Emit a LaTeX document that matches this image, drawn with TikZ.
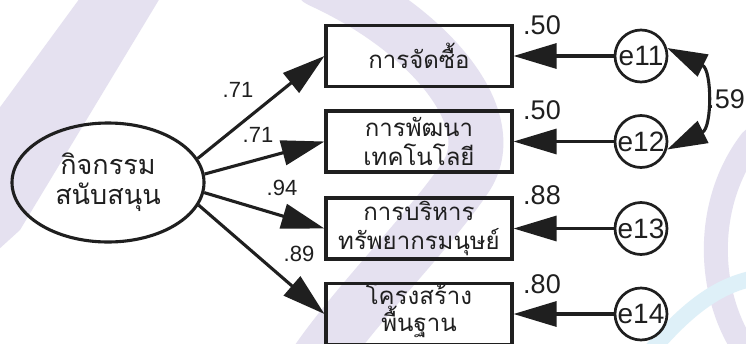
\documentclass[tikz,border=0pt]{standalone}
\usepackage{fontspec}
\setmainfont{Liberation Sans}
\newfontfamily\thaifont[Script=Thai]{Loma}
\usetikzlibrary{arrows.meta,shapes.geometric}
\definecolor{wmark}{RGB}{229,225,240}
\definecolor{wcyan}{RGB}{222,240,248}
\begin{document}
\begin{tikzpicture}[x=1pt,y=-1pt,
  ink/.style={draw=black!88, line width=3.1pt},
  obs/.style={ink, rectangle, minimum width=186pt, minimum height=61pt, inner sep=0pt,
    align=center, text=black!88, font=\thaifont\fontsize{24}{29}\selectfont},
  lat/.style={ink, ellipse, minimum width=192pt, minimum height=119pt, inner sep=0pt,
    align=center, text=black!88, font=\thaifont\fontsize{27}{30}\selectfont},
  err/.style={draw=black!88, line width=2.7pt, circle, minimum size=52pt, inner sep=0pt,
    text=black!88, font=\fontsize{28}{30}\selectfont},
  arr/.style={draw=black!88, line width=3.1pt, -{Triangle[length=43pt,width=25pt]}},
  covarr/.style={draw=black!88, line width=3.1pt, {Triangle[length=40pt,width=24pt]}-{Triangle[length=40pt,width=24pt]}},
  wl/.style={text=black!88, inner sep=0pt, font=\fontsize{22}{24}\selectfont},
  wr/.style={text=black!88, inner sep=0pt, font=\fontsize{27}{30}\selectfont},
  wm/.style={draw=wmark, line cap=round},
]
\useasboundingbox (0,0) rectangle (746,343);
\fill[white] (0,0) rectangle (746,343);
% faint background watermark
\begin{scope}
\clip (0,0) rectangle (746,343);
\fill[wmark] (80,-2) -- (160,-2) -- (20,230) -- (-2,250) -- (-2,110) -- cycle;
\draw[wm, line width=55pt] (320,-20) .. controls (430,30) and (505,120) .. (465,178)
   .. controls (430,230) and (360,300) .. (318,360);
\draw[wm, line width=24pt] (752,140) .. controls (705,200) and (705,290) .. (745,350);
\draw[draw=wcyan, line width=16pt] (650,352) .. controls (690,305) and (720,285) .. (755,278);
\end{scope}

\node[lat] (ell) at (108,182.5) {กิจกรรม\\สนับสนุน};

\node[obs] (b1) at (419,56) {การจัดซื้อ};
\node[obs] (b2) at (419,141.5) {การพัฒนา\\เทคโนโลยี};
\node[obs] (b3) at (419,228.5) {การบริหาร\\ทรัพยากรมนุษย์};
\node[obs, font=\thaifont\fontsize{24}{27}\selectfont, text depth=13pt] (b4) at (419,314) {โครงสร้าง\\พื้นฐาน};

\node[err] (e1) at (641,56) {e11};
\node[err] (e2) at (641,141.5) {e12};
\node[err] (e3) at (641,228.5) {e13};
\node[err] (e4) at (641,314) {e14};

\draw[arr] (ell.15) -- (b1.west);
\draw[arr] (ell.5) -- (b2.west);
\draw[arr] (ell.-6) -- (b3.west);
\draw[arr] (ell.-14) -- (b4.west);

\draw[arr] (e1) -- (b1);
\draw[arr] (e2) -- (b2);
\draw[arr] (e3) -- (b3);
\draw[arr] (e4) -- (b4);

\draw[covarr] (e1.17) .. controls +(45,22) and +(45,-22) .. (e2.-17);

\node[wl] (w1) at (238,90) {.71};
\node[wl] (w2) at (258,135) {.71};
\node[wl] (w3) at (282,188) {.94};
\node[wl] (w4) at (299,254) {.89};

\node[wr] (r1) at (542,25) {.50};
\node[wr] (r2) at (542,110) {.50};
\node[wr] (r3) at (542,195) {.88};
\node[wr] (r4) at (542,284) {.80};
\node[wr] (c1) at (726,99) {.59};
\end{tikzpicture}
\end{document}
